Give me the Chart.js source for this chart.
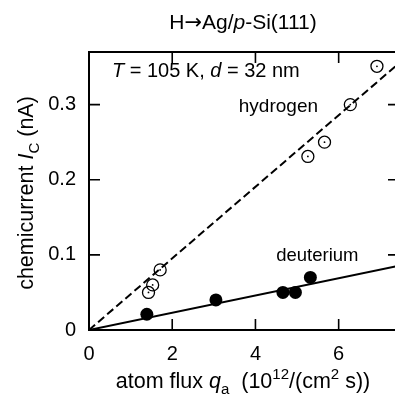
<!DOCTYPE html>
<html>
<head>
<meta charset="utf-8">
<script src="https://cdn.jsdelivr.net/npm/chart.js@4/dist/chart.umd.min.js"></script>
<style>
  html, body { margin: 0; padding: 0; background: #fff; overflow: hidden; }
  canvas { display: block; }
</style>
</head>
<body>
<canvas id="chart" width="410" height="395"></canvas>
<script>
// values
const xTicks = [0, 2, 4, 6];
const yTicks = [0, 0.1, 0.2, 0.3];
const hydrogenX = [1.43, 1.53, 1.71, 5.26, 5.66, 6.28, 6.92];
const hydrogenY = [0.050, 0.060, 0.080, 0.231, 0.250, 0.300, 0.351];
const deuteriumX = [1.39, 3.05, 4.66, 4.96, 5.32];
const deuteriumY = [0.021, 0.040, 0.050, 0.050, 0.070];
const fitX = [0, 7.45];
const hydrogenFit = [0, 0.355];
const deuteriumFit = [0, 0.0855];

const FONT = '"Liberation Sans", Arial, sans-serif';
const pts = (xs, ys) => xs.map((v, i) => ({ x: v, y: ys[i] }));

// text made of pieces (italic, sub, sup, other family), from x on baseline y
function partFont(p, size) {
  const s = p.sub || p.sup ? size * 0.7 : size;
  return (p.it ? 'italic ' : '') + s + 'px ' + (p.f || FONT);
}
function richText(ctx, parts, x, y, size, align) {
  if (align === 'center') {
    let w = 0;
    parts.forEach(p => { ctx.font = partFont(p, size); w += ctx.measureText(p.t).width; });
    x -= w / 2;
  }
  ctx.textAlign = 'left';
  ctx.textBaseline = 'alphabetic';
  parts.forEach(p => {
    ctx.font = partFont(p, size);
    let dy = 0;
    if (p.sub) dy = size * 0.3;
    if (p.sup) dy = -size * 0.4;
    ctx.fillText(p.t, x, y + dy);
    x += ctx.measureText(p.t).width;
  });
}

const framePlugin = {
  id: 'frame',
  afterDraw(chart) {
    const { ctx, chartArea: a, scales: { x, y } } = chart;
    ctx.save();
    ctx.strokeStyle = '#000';
    ctx.fillStyle = '#000';
    ctx.lineWidth = 1.6;
    ctx.beginPath();
    xTicks.forEach(v => {
      if (v === 0) return;
      const px = x.getPixelForValue(v);
      ctx.moveTo(px, a.bottom); ctx.lineTo(px, a.bottom - 11);
      ctx.moveTo(px, a.top); ctx.lineTo(px, a.top + 11);
    });
    yTicks.forEach(v => {
      if (v === 0) return;
      const py = y.getPixelForValue(v);
      ctx.moveTo(a.left, py); ctx.lineTo(a.left + 11, py);
      ctx.moveTo(a.right, py); ctx.lineTo(a.right - 11, py);
    });
    ctx.stroke();
    ctx.lineWidth = 2;
    ctx.strokeRect(a.left, a.top, a.right - a.left, a.bottom - a.top);

    // title
    richText(ctx, [{ t: 'H' }, { t: '\u2192', f: '"DejaVu Sans"' }, { t: 'Ag/' }, { t: 'p', it: true }, { t: '-Si(111)' }],
      243, 29, 21, 'center');
    // annotations
    richText(ctx, [{ t: 'T', it: true }, { t: ' = 105 K, ' }, { t: 'd', it: true }, { t: ' = 32 nm' }],
      x.getPixelForValue(0.55), y.getPixelForValue(0.337), 20);
    richText(ctx, [{ t: 'hydrogen' }], x.getPixelForValue(3.6), y.getPixelForValue(0.2897), 19);
    richText(ctx, [{ t: 'deuterium' }], x.getPixelForValue(4.5), y.getPixelForValue(0.0924), 18.5);
    // x axis title
    richText(ctx, [{ t: 'atom flux ' }, { t: 'q', it: true }, { t: 'a', sub: true }, { t: '  (10' },
      { t: '12', sup: true }, { t: '/(cm' }, { t: '2', sup: true }, { t: ' s))' }], 243, 388, 21.5, 'center');
    // y axis title
    ctx.save();
    ctx.translate(33, 193);
    ctx.rotate(-Math.PI / 2);
    richText(ctx, [{ t: 'chemicurrent ' }, { t: 'I', it: true }, { t: 'C', sub: true }, { t: ' (nA)' }], 0, 0, 21.5, 'center');
    ctx.restore();
    ctx.restore();
  }
};

new Chart(document.getElementById('chart'), {
  type: 'scatter',
  data: {
    datasets: [
      {
        type: 'line', data: pts(fitX, hydrogenFit), borderColor: '#000', borderWidth: 2,
        borderDash: [8, 4], pointRadius: 0, fill: false
      },
      {
        type: 'line', data: pts(fitX, deuteriumFit), borderColor: '#000', borderWidth: 2,
        pointRadius: 0, fill: false
      },
      {
        data: pts(hydrogenX, hydrogenY), pointRadius: 6, pointBorderWidth: 1.3,
        pointBorderColor: '#000', pointBackgroundColor: 'rgba(0,0,0,0)'
      },
      {
        data: pts(hydrogenX, hydrogenY), pointRadius: 0.9, pointBorderWidth: 0,
        pointBackgroundColor: '#000'
      },
      {
        data: pts(deuteriumX, deuteriumY), pointRadius: 6.5, pointBorderWidth: 0,
        pointBackgroundColor: '#000'
      }
    ]
  },
  options: {
    responsive: false,
    devicePixelRatio: 1,
    animation: false,
    layout: { padding: { top: 52, right: 11, left: 0, bottom: 0 } },
    plugins: { legend: { display: false }, tooltip: { enabled: false } },
    scales: {
      x: {
        type: 'linear', min: 0, max: 7.45,
        afterFit: s => { s.height = 65; },
        afterBuildTicks: s => { s.ticks = xTicks.map(v => ({ value: v })); },
        grid: { display: false, drawTicks: false },
        border: { display: false },
        ticks: { color: '#000', font: { family: FONT, size: 20 }, padding: 12, maxRotation: 0, callback: v => String(v) }
      },
      y: {
        type: 'linear', min: 0, max: 0.37,
        afterFit: s => { s.width = 89; },
        afterBuildTicks: s => { s.ticks = yTicks.map(v => ({ value: v })); },
        grid: { display: false, drawTicks: false },
        border: { display: false },
        ticks: { color: '#000', font: { family: FONT, size: 20 }, padding: 13, callback: v => v === 0 ? '0' : v.toFixed(1) }
      }
    }
  },
  plugins: [framePlugin]
});
</script>
</body>
</html>
